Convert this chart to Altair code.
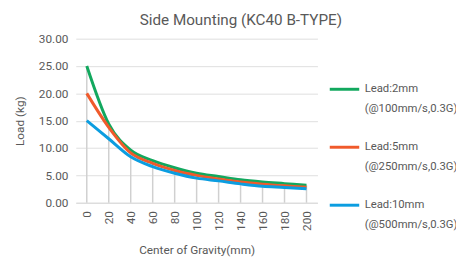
import altair as alt
import pandas as pd

cog = [0, 20, 40, 60, 80, 100, 120, 140, 160, 180, 200]
lead2 = [25.0, 14.4, 9.6, 7.7, 6.4, 5.4, 4.8, 4.2, 3.8, 3.5, 3.2]
lead5 = [20.0, 13.8, 9.1, 7.2, 5.9, 5.0, 4.35, 3.8, 3.4, 3.1, 2.85]
lead10 = [15.0, 11.7, 8.4, 6.6, 5.4, 4.5, 4.0, 3.45, 3.0, 2.8, 2.55]
series = ["Lead:2mm", "Lead:5mm", "Lead:10mm"]
speeds = ["(@100mm/s,0.3G)", "(@250mm/s,0.3G)", "(@500mm/s,0.3G)"]
colors = ["#12A85E", "#F05A2B", "#0B9DE0"]

rows = []
for name, spd, vals in zip(series, speeds, [lead2, lead5, lead10]):
    for x, v in zip(cog, vals):
        rows.append({"cog": x, "load": v, "series": name, "speed": spd})
df = pd.DataFrame(rows)

FONT = "Roboto"
GRAY = "#595959"

xenc = alt.X("cog:O", sort=cog, scale=alt.Scale(type="point", padding=0.5),
             axis=alt.Axis(title="Center of Gravity(mm)", labelAngle=-90, ticks=False,
                           domainColor="#d9d9d9", labelPadding=8, titlePadding=14,
                           grid=False))
yscale = alt.Scale(domain=[0, 30])
yaxis = alt.Axis(title="Load (kg)", values=[0, 5, 10, 15, 20, 25, 30], format=".2f",
                 domain=False, ticks=False, gridColor="#dedede", labelPadding=8,
                 labelOverlap=False, titlePadding=12)

drops = alt.Chart(df).transform_aggregate(
    top="max(load)", groupby=["cog"]
).mark_rule(color="#d0d0d0", strokeWidth=1.5).encode(
    x=xenc,
    y=alt.Y("top:Q", scale=yscale, axis=yaxis),
    y2=alt.datum(0),
)

LX, LY = 257, 35
legend_common = dict(title=None, orient="none", legendX=LX,
                     symbolType="stroke", symbolSize=900, symbolStrokeWidth=3,
                     labelOffset=4, rowPadding=36, padding=0, labelBaseline="middle")

lines = alt.Chart(df).mark_line(interpolate="cardinal", tension=0, strokeWidth=3).encode(
    x=xenc,
    y=alt.Y("load:Q", scale=yscale, axis=yaxis),
    color=alt.Color("series:N", sort=series,
                    scale=alt.Scale(domain=series, range=colors),
                    legend=alt.Legend(legendY=LY, **legend_common)),
    opacity=alt.Opacity("speed:N", sort=speeds,
                        scale=alt.Scale(domain=speeds, range=[1, 1, 1]),
                        legend=alt.Legend(legendY=LY + 20, symbolOpacity=0,
                                          symbolStrokeColor="white", **legend_common)),
)

chart = alt.layer(drops, lines).properties(
    width=246, height=167,
    title=alt.TitleParams("Side Mounting (KC40 B-TYPE)", fontSize=15.5, font=FONT, color=GRAY,
                          fontWeight="normal", anchor="middle", dx=45, offset=4),
    autosize=alt.AutoSizeParams(type="none"),
    padding={"left": 69, "top": 29, "right": 141, "bottom": 53},
).configure_view(stroke=None).configure_axis(
    labelFont=FONT, titleFont=FONT, labelColor=GRAY, titleColor=GRAY,
    labelFontSize=12, titleFontSize=12, titleFontWeight="normal",
).configure_legend(
    labelFont=FONT, labelColor=GRAY, labelFontSize=11.5, labelLimit=200,
)

chart.save("out.html", embed_options={"renderer": "svg", "actions": False})
